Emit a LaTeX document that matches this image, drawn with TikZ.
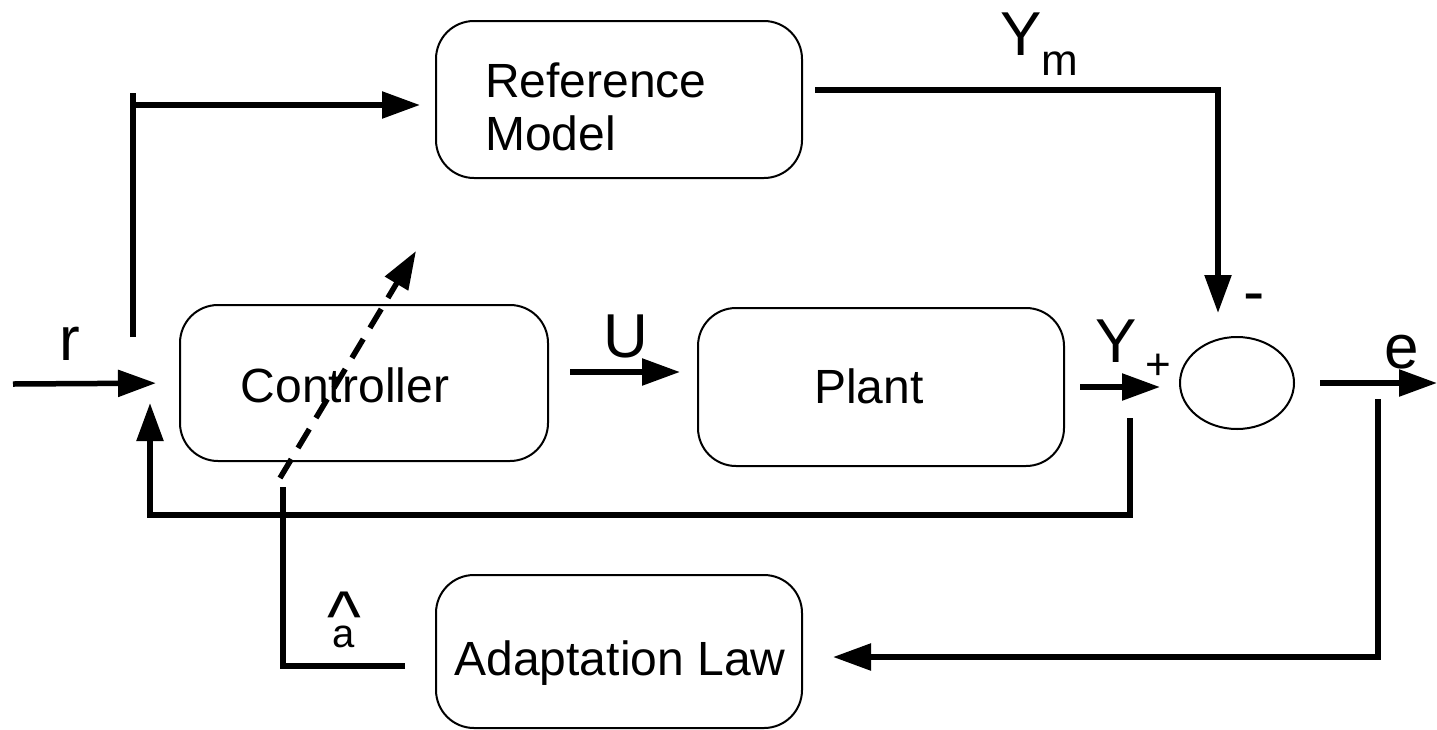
\documentclass[tikz,border=0pt]{standalone}
\usepackage{fontspec}
\setmainfont{Liberation Sans}
\usetikzlibrary{arrows.meta,shapes.geometric}
\newcommand{\setfs}[1]{\fontsize{#1}{#1}\selectfont}

\tikzset{
  blk/.style={draw, line width=2pt, rounded corners=38pt, inner sep=0pt},
  sumnode/.style={draw, ellipse, line width=2pt, inner sep=0pt,
                  minimum width=114pt, minimum height=92pt},
  sig/.style={line width=5.5pt},
  arr/.style={sig, -{Triangle[length=38pt,width=26pt]}},
  dasharr/.style={arr, dash pattern=on 22pt off 13pt},
  boxtext/.style={font=\setfs{48}, inner sep=0pt},
  lab/.style={font=\setfs{62}, inner sep=0pt},
  sgn/.style={font=\setfs{44}, inner sep=0pt},
}

\begin{document}
\begin{tikzpicture}[x=1pt, y=-1pt]
\useasboundingbox (0,0) rectangle (1437,729);

% blocks
\node[blk, minimum width=366pt, minimum height=157pt] (refm)  at (619,99.5) {};
\node[blk, minimum width=368pt, minimum height=156pt] (ctrl)  at (364,383) {};
\node[blk, minimum width=366pt, minimum height=158pt] (plant) at (881,387) {};
\node[blk, minimum width=366pt, minimum height=153pt] (adapt) at (619,651.5) {};
\node[sumnode] (sum) at (1237,383) {};

% block captions
\node[boxtext, anchor=base west] (refmA) at (485,97)  {Reference};
\node[boxtext, anchor=base west] (refmB) at (485,150) {Model};
\node[boxtext, anchor=base] (ctrltxt)  at (345,402) {Controller};
\node[boxtext, anchor=base] (planttxt) at (869,403) {Plant};
\node[boxtext, anchor=base] (adapttxt) at (620,675) {Adaptation Law};

% signal labels
\node[lab, anchor=base] (rlab) at (70,360)   {r};
\node[lab, anchor=base] (ulab) at (626,357)  {U};
\node[lab, anchor=base] (ylab) at (1116,362) {Y};
\node[lab, anchor=base] (elab) at (1402,368) {e};
\node[lab, anchor=base west] (ymlab) at (1000,55) {Y\raisebox{-20pt}{\setfs{44}m}};
\node[sgn] (plus)  at (1158,367) {+};
\node[sgn, font=\setfs{64}] (minus) at (1254,304) {-};
\node[anchor=base, inner sep=0pt] (ahat) at (344,647)
  {\setfs{40}\makebox[0pt]{a}\makebox[0pt]{\raisebox{6pt}{\setfs{72}\textasciicircum}}};

% connector end points
\coordinate (rin)   at (13,384);
\coordinate (brlo)  at (133,337);
\coordinate (brhi)  at (133,93);
\coordinate (brtop) at (133,105);
\coordinate (refin) at (420,105);
\coordinate (uout)  at (570,372);
\coordinate (uin)   at (680,372);
\coordinate (yout)  at (1080,387);
\coordinate (yin)   at (1160,387);
\coordinate (ymout) at (815,90);
\coordinate (ymcor) at (1218,90);
\coordinate (ymin)  at (1218,313);
\coordinate (eout)  at (1320,383);
\coordinate (eend)  at (1437,383);
\coordinate (fbtap) at (1130,418);
\coordinate (fbr)   at (1130,515);
\coordinate (fbl)   at (150,515);
\coordinate (fbin)  at (150,403);
\coordinate (etap)  at (1378,399);
\coordinate (ecor)  at (1378,657);
\coordinate (adin)  at (833,657);
\coordinate (ahout) at (405,666);
\coordinate (ahcor) at (283,666);
\coordinate (ahtop) at (283,487);
\coordinate (tune0) at (280,478);
\coordinate (tune1) at (416,251);

% signal paths
\draw[arr, shorten >=23pt] (rin) -- (ctrl.west);
\draw[sig] (brlo) -- (brhi);
\draw[arr] (brtop) -- (refin);
\draw[arr] (uout) -- (uin);
\draw[arr] (yout) -- (yin);
\draw[arr] (ymout) -- (ymcor) -- (ymin);
\draw[arr] (eout) -- (eend);
\draw[arr] (fbtap) -- (fbr) -- (fbl) -- (fbin);
\draw[arr] (etap) -- (ecor) -- (adin);
\draw[sig] (ahout) -- (ahcor) -- (ahtop);
\draw[dasharr] (tune0) -- (tune1);
\end{tikzpicture}
\end{document}
